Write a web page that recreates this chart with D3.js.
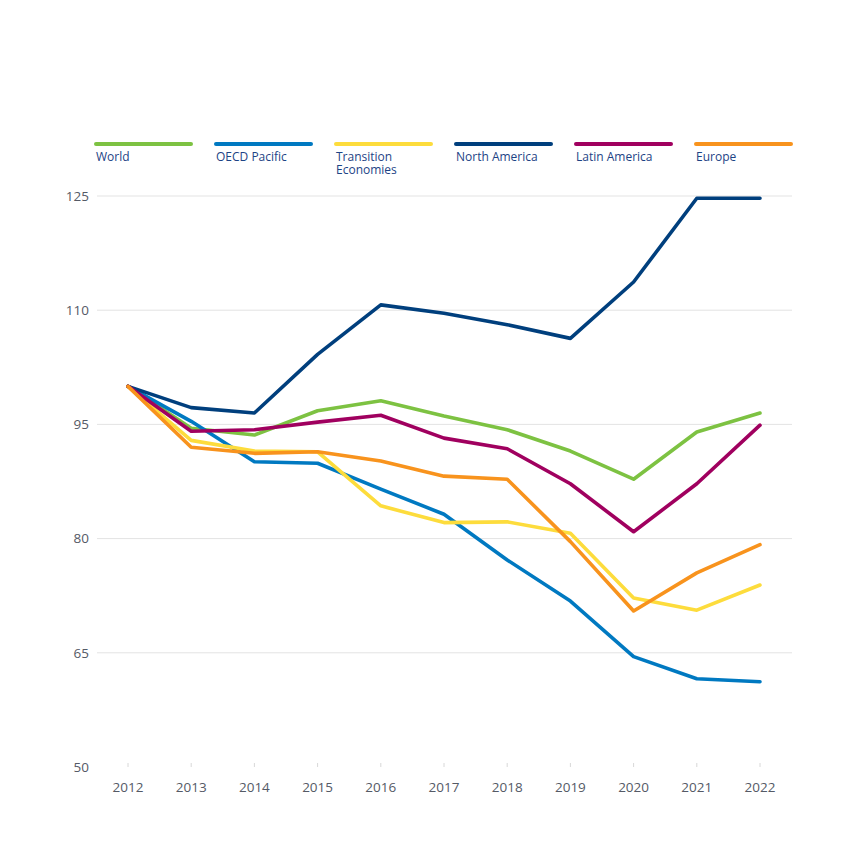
<!DOCTYPE html>
<meta charset="utf-8">
<script src="https://d3js.org/d3.v7.min.js"></script>
<style>
body{margin:0;background:#fff}
text{font-family:"Open Sans",sans-serif}
</style>
<div id="chart"></div>
<script>

// years along the x axis
var years = [2012,2013,2014,2015,2016,2017,2018,2019,2020,2021,2022]
var yTicks = [50,65,80,95,110,125]

var seriesNames = ["World","OECD Pacific","Transition\nEconomies","North America","Latin America","Europe"]
var seriesColors = ["#7dc242","#0079c1","#fddc3c","#003f7d","#a0005f","#f8931d"]

var world = [100,94.5,93.6,96.8,98.1,96.1,94.3,91.5,87.8,94.0,96.5]
var oecdPacific = [100,95.4,90.1,89.9,86.5,83.2,77.2,71.8,64.5,61.6,61.2]
var transition = [100,92.9,91.5,91.4,84.3,82.1,82.2,80.7,72.2,70.6,73.9]
var northAmerica = [100,97.2,96.5,104.2,110.7,109.6,108.1,106.3,113.7,124.7,124.7]
var latinAmerica = [100,94.1,94.3,95.3,96.2,93.2,91.8,87.2,80.9,87.2,94.9]
var europe = [100,92.0,91.2,91.4,90.2,88.2,87.8,79.6,70.5,75.5,79.2]

var allSeries = [world,oecdPacific,transition,northAmerica,latinAmerica,europe]

var width = 864, height = 864
var svg = d3.select("#chart").append("svg").attr("width",width).attr("height",height)

var x = d3.scalePoint().domain(years).range([128,760])
var y = d3.scaleLinear().domain([50,125]).range([767,196])

// gridlines (none at the bottom value)
svg.append("g").selectAll("line")
	.data(yTicks.filter(function(d){return d!=50}))
	.join("line")
	.attr("x1",97).attr("x2",792)
	.attr("y1",function(d){return y(d)}).attr("y2",function(d){return y(d)})
	.attr("stroke","#e3e3e3").attr("stroke-width",1)

// y labels
svg.append("g").selectAll("text")
	.data(yTicks)
	.join("text")
	.attr("x",89)
	.attr("y",function(d){return y(d)})
	.attr("dy","0.35em")
	.attr("text-anchor","end")
	.attr("font-size",13.5)
	.attr("fill","#555a66")
	.text(function(d){return d})

// x ticks + labels
svg.append("g").selectAll("line")
	.data(years)
	.join("line")
	.attr("x1",function(d){return x(d)}).attr("x2",function(d){return x(d)})
	.attr("y1",763).attr("y2",767)
	.attr("stroke","#d8d8d8")

svg.append("g").selectAll("text")
	.data(years)
	.join("text")
	.attr("x",function(d){return x(d)})
	.attr("y",792)
	.attr("text-anchor","middle")
	.attr("font-size",13.5)
	.attr("fill","#555a66")
	.text(function(d){return d})

var line = d3.line()
	.x(function(d,i){return x(years[i])})
	.y(function(d){return y(d)})

svg.append("g").selectAll("path")
	.data(allSeries)
	.join("path")
	.attr("d",line)
	.attr("fill","none")
	.attr("stroke",function(d,i){return seriesColors[i]})
	.attr("stroke-width",3.6)
	.attr("stroke-linejoin","round")
	.attr("stroke-linecap","round")

// legend
var legend = svg.append("g").selectAll("g")
	.data(seriesNames)
	.join("g")
	.attr("transform",function(d,i){return "translate("+(95+i*120)+",0)"})

legend.append("line")
	.attr("x1",1).attr("x2",96)
	.attr("y1",144).attr("y2",144)
	.attr("stroke",function(d,i){return seriesColors[i]})
	.attr("stroke-width",4)
	.attr("stroke-linecap","round")

// one text per line so wrapped labels stay apart
legend.selectAll("text")
	.data(function(d){return d.split("\n")})
	.join("text")
	.attr("font-size",12)
	.attr("fill","#1d4385")
	.attr("x",1)
	.attr("y",function(d,i){return 161+i*13})
	.text(function(d){return d})

</script>
